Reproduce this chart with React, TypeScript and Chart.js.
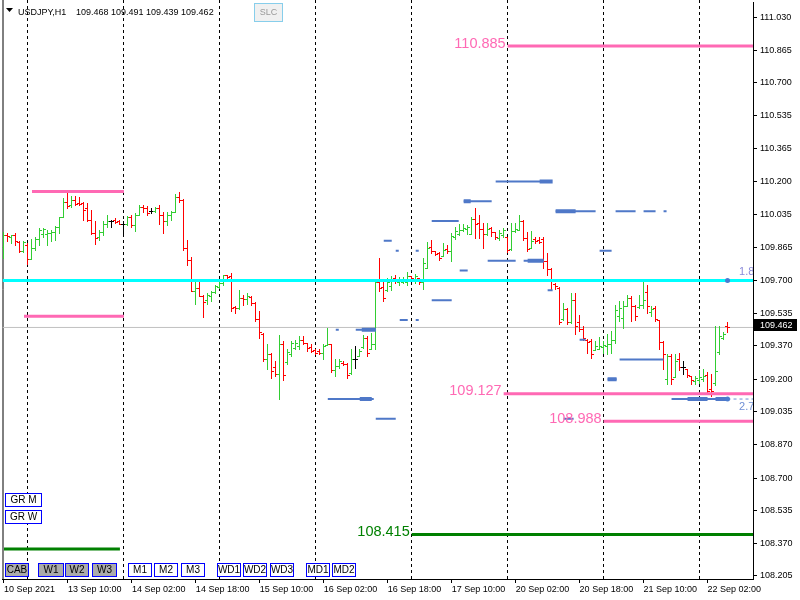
import React, { useEffect, useRef } from 'react';
import { Chart, BarController, registerables } from 'chart.js';

// Custom OHLC controller: uses the bar controller's parsing/scales and draws MT4-style bars
class OhlcController extends BarController {
  static id = 'ohlc';
  draw() {
    const meta: any = (this as any)._cachedMeta;
    const ds: any = this.getDataset();
    const ctx = (this as any).chart.ctx as CanvasRenderingContext2D;
    const xs = meta.iScale;
    const ys = meta.vScale;
    ctx.save();
    ds.data.forEach((d: any, i: number) => {
      const px = Math.floor(xs.getPixelForValue(d.x));
      const yH = Math.round(ys.getPixelForValue(d.y[1]));
      const yL = Math.round(ys.getPixelForValue(d.y[0]));
      const yO = Math.round(ys.getPixelForValue(ds.open[i]));
      const yC = Math.round(ys.getPixelForValue(ds.close[i]));
      ctx.fillStyle = ds.backgroundColor[i];
      ctx.fillRect(px, yH, 1, Math.max(1, yL - yH + 1));
      ctx.fillRect(px - 2, yO, 2, 1);
      ctx.fillRect(px + 1, yC, 2, 1);
    });
    ctx.restore();
  }
}

Chart.register(...registerables, OhlcController);

const FONT = "'Liberation Sans', Arial, Helvetica, sans-serif";

// ---------------- data ----------------
const SYMBOL = 'USDJPY,H1';

const OPEN = [
  109.870, 109.930, 109.922, 109.930, 109.895, 109.850, 109.880, 109.810, 109.863, 109.910,
  109.935, 109.935, 109.940, 109.945, 109.968, 110.020, 110.098, 110.080, 110.107, 110.090,
  110.090, 110.065, 110.006, 109.940, 109.920, 109.945, 109.985, 110.000, 110.003, 109.998,
  109.985, 109.985, 110.023, 109.981, 110.031, 110.073, 110.065, 110.050, 110.050, 110.068,
  110.031, 109.998, 110.031, 110.048, 110.123, 110.107, 109.863, 109.805, 109.645, 109.660,
  109.620, 109.600, 109.620, 109.640, 109.665, 109.685, 109.725, 109.720, 109.565, 109.560,
  109.612, 109.604, 109.615, 109.585, 109.505, 109.430, 109.300, 109.330, 109.260, 109.225,
  109.380, 109.285, 109.330, 109.360, 109.370, 109.400, 109.385, 109.365, 109.350, 109.345,
  109.335, 109.375, 109.380, 109.245, 109.265, 109.284, 109.275, 109.230, 109.300, 109.320,
  109.365, 109.410, 109.355, 109.380, 109.690, 109.665, 109.650, 109.670, 109.710, 109.690,
  109.690, 109.690, 109.720, 109.700, 109.712, 109.690, 109.765, 109.870, 109.850, 109.840,
  109.825, 109.860, 109.850, 109.920, 109.935, 109.955, 109.960, 109.935, 110.010, 109.990,
  109.960, 109.935, 109.965, 109.945, 109.915, 109.930, 109.920, 109.860, 109.950, 109.956,
  110.000, 109.915, 109.863, 109.910, 109.905, 109.910, 109.800, 109.760, 109.680, 109.660,
  109.505, 109.555, 109.490, 109.600, 109.490, 109.455, 109.400, 109.395, 109.350, 109.355,
  109.365, 109.370, 109.380, 109.400, 109.520, 109.510, 109.570, 109.610, 109.570, 109.565,
  109.575, 109.640, 109.540, 109.560, 109.500, 109.390, 109.200, 109.320, 109.210, 109.300,
  109.260, 109.250, 109.215, 109.190, 109.195, 109.200, 109.220, 109.150, 109.180, 109.340,
  109.410, 109.468,
];
const HIGH = [
  109.947, 109.939, 109.930, 109.939, 109.897, 109.897, 109.888, 109.910, 109.922, 109.964,
  109.967, 109.955, 109.955, 109.973, 110.023, 110.115, 110.140, 110.128, 110.128, 110.123,
  110.098, 110.090, 110.056, 110.000, 109.955, 109.998, 110.031, 110.006, 110.014, 110.006,
  109.998, 110.026, 110.031, 110.040, 110.081, 110.081, 110.078, 110.068, 110.073, 110.081,
  110.048, 110.048, 110.051, 110.135, 110.149, 110.110, 109.902, 109.816, 109.695, 109.704,
  109.628, 109.637, 109.645, 109.678, 109.695, 109.729, 109.729, 109.737, 109.569, 109.653,
  109.625, 109.637, 109.620, 109.590, 109.545, 109.435, 109.376, 109.334, 109.292, 109.423,
  109.393, 109.351, 109.393, 109.401, 109.418, 109.418, 109.385, 109.376, 109.351, 109.351,
  109.376, 109.460, 109.380, 109.301, 109.301, 109.290, 109.280, 109.351, 109.368, 109.351,
  109.423, 109.418, 109.435, 109.695, 109.813, 109.695, 109.712, 109.721, 109.726, 109.715,
  109.715, 109.742, 109.722, 109.732, 109.712, 109.813, 109.893, 109.905, 109.850, 109.846,
  109.888, 109.877, 109.939, 109.972, 109.984, 109.984, 109.981, 110.023, 110.068, 110.031,
  109.989, 109.989, 109.972, 109.947, 109.956, 109.964, 109.922, 109.989, 109.989, 110.031,
  110.006, 109.947, 109.951, 109.922, 109.917, 109.917, 109.838, 109.763, 109.687, 109.665,
  109.586, 109.561, 109.637, 109.637, 109.524, 109.469, 109.402, 109.402, 109.393, 109.413,
  109.393, 109.430, 109.444, 109.578, 109.595, 109.595, 109.628, 109.620, 109.578, 109.628,
  109.692, 109.679, 109.570, 109.570, 109.502, 109.393, 109.330, 109.326, 109.330, 109.335,
  109.293, 109.251, 109.217, 109.217, 109.246, 109.251, 109.239, 109.225, 109.469, 109.469,
  109.440, 109.491,
];
const LOW = [
  109.813, 109.897, 109.888, 109.880, 109.846, 109.843, 109.783, 109.808, 109.855, 109.880,
  109.922, 109.880, 109.897, 109.905, 109.940, 110.020, 110.065, 110.073, 110.081, 110.081,
  110.006, 109.998, 109.936, 109.884, 109.905, 109.930, 109.972, 109.969, 109.989, 109.984,
  109.939, 109.981, 109.969, 109.950, 110.031, 110.048, 110.031, 110.040, 110.048, 109.984,
  109.939, 109.981, 110.006, 110.044, 110.098, 109.855, 109.779, 109.645, 109.581, 109.620,
  109.516, 109.581, 109.598, 109.637, 109.662, 109.675, 109.695, 109.544, 109.536, 109.556,
  109.574, 109.581, 109.578, 109.494, 109.410, 109.292, 109.250, 109.208, 109.217, 109.099,
  109.195, 109.276, 109.318, 109.351, 109.351, 109.380, 109.343, 109.339, 109.326, 109.329,
  109.301, 109.373, 109.239, 109.217, 109.259, 109.272, 109.205, 109.225, 109.259, 109.318,
  109.360, 109.318, 109.351, 109.351, 109.645, 109.595, 109.645, 109.653, 109.687, 109.679,
  109.687, 109.679, 109.709, 109.687, 109.682, 109.658, 109.762, 109.838, 109.826, 109.804,
  109.821, 109.838, 109.799, 109.910, 109.930, 109.951, 109.934, 109.934, 109.914, 109.914,
  109.863, 109.930, 109.925, 109.910, 109.905, 109.922, 109.846, 109.855, 109.947, 109.956,
  109.902, 109.847, 109.863, 109.889, 109.889, 109.763, 109.729, 109.654, 109.654, 109.481,
  109.502, 109.481, 109.486, 109.430, 109.444, 109.397, 109.335, 109.309, 109.346, 109.351,
  109.335, 109.326, 109.335, 109.385, 109.497, 109.461, 109.570, 109.494, 109.502, 109.561,
  109.561, 109.536, 109.519, 109.494, 109.351, 109.251, 109.178, 109.178, 109.209, 109.246,
  109.225, 109.209, 109.178, 109.178, 109.183, 109.192, 109.133, 109.116, 109.172, 109.326,
  109.402, 109.439,
];
const CLOSE = [
  109.930, 109.925, 109.930, 109.897, 109.850, 109.895, 109.810, 109.863, 109.910, 109.955,
  109.960, 109.940, 109.945, 109.968, 110.020, 110.098, 110.075, 110.107, 110.085, 110.088,
  110.056, 110.008, 109.940, 109.915, 109.945, 109.985, 110.000, 110.000, 109.996, 109.985,
  109.985, 110.023, 109.981, 110.031, 110.073, 110.065, 110.040, 110.050, 110.068, 110.031,
  109.998, 110.031, 110.048, 110.123, 110.107, 109.863, 109.805, 109.648, 109.660, 109.622,
  109.590, 109.628, 109.640, 109.670, 109.685, 109.725, 109.715, 109.561, 109.558, 109.612,
  109.604, 109.620, 109.585, 109.505, 109.440, 109.300, 109.330, 109.240, 109.225, 109.380,
  109.220, 109.340, 109.385, 109.385, 109.400, 109.385, 109.360, 109.345, 109.335, 109.335,
  109.370, 109.380, 109.245, 109.265, 109.290, 109.275, 109.220, 109.300, 109.300, 109.345,
  109.410, 109.335, 109.380, 109.690, 109.660, 109.610, 109.690, 109.700, 109.695, 109.705,
  109.705, 109.720, 109.712, 109.720, 109.690, 109.790, 109.865, 109.850, 109.835, 109.815,
  109.855, 109.850, 109.925, 109.950, 109.955, 109.965, 109.970, 110.010, 109.985, 109.960,
  109.935, 109.960, 109.945, 109.920, 109.940, 109.955, 109.855, 109.950, 109.960, 110.000,
  109.915, 109.860, 109.900, 109.900, 109.895, 109.800, 109.760, 109.700, 109.670, 109.490,
  109.555, 109.490, 109.600, 109.470, 109.455, 109.410, 109.390, 109.330, 109.370, 109.370,
  109.375, 109.380, 109.400, 109.550, 109.560, 109.570, 109.610, 109.570, 109.520, 109.575,
  109.600, 109.570, 109.555, 109.505, 109.390, 109.330, 109.320, 109.200, 109.290, 109.260,
  109.260, 109.220, 109.195, 109.205, 109.210, 109.215, 109.140, 109.140, 109.240, 109.420,
  109.430, 109.462,
];

// time axis (bar index -> label)
const X_TICK_INDEX = [0, 16, 32, 48, 64, 80, 96, 112, 128, 144, 160, 176];
const X_TICK_LABELS = [
  '10 Sep 2021', '13 Sep 10:00', '14 Sep 02:00', '14 Sep 18:00', '15 Sep 10:00', '16 Sep 02:00',
  '16 Sep 18:00', '17 Sep 10:00', '20 Sep 02:00', '20 Sep 18:00', '21 Sep 10:00', '22 Sep 02:00',
];
const DAY_STARTS = [6, 30, 54, 78, 102, 126, 150, 174];

const Y_TICK_VALUES = [
  111.030, 110.865, 110.700, 110.535, 110.365, 110.200, 110.035, 109.865, 109.700,
  109.535, 109.370, 109.200, 109.035, 108.870, 108.700, 108.535, 108.370, 108.205,
];

// axis ranges (in bars / price)
const X_MIN = -0.375;
const X_MAX = 187.375;
const Y_MIN = 108.1898;
const Y_MAX = 111.1055;

// labelled levels
const PINK_LEVELS = [110.885, 109.127, 108.988];
const PINK_LEVEL_FROM = [126, 125, 150];
const GREEN_LEVELS = [108.415];
const GREEN_LEVEL_FROM = [102];
const CYAN_LEVEL = 109.7;

// short range lines (left side)
const PINK_RANGE_PRICES = [110.149, 109.519];
const PINK_RANGE_FROM = [7, 5];
const PINK_RANGE_TO = [30, 30];
const GREEN_RANGE_PRICES = [108.341];
const GREEN_RANGE_FROM = [0];
const GREEN_RANGE_TO = [29];

// blue zone segments
const ZONE_PRICES = [110.20, 110.10, 109.90, 109.85, 109.85, 110.00, 109.80, 109.75, 109.60, 109.50,
  109.50, 109.45, 109.45, 109.10, 109.00, 110.05, 110.05, 110.05, 110.05, 109.85,
  109.80, 109.65, 109.40, 109.30, 109.20, 109.10, 109.00];
const ZONE_FROM = [123, 115, 95, 98, 103, 107, 121, 114, 107, 99,
  103, 83, 88, 81, 93, 138, 153, 160, 165, 149,
  130, 136, 144, 154, 151, 167, 140];
const ZONE_TO = [137, 122, 97, 98.75, 103.75, 113.75, 128, 116, 112, 101,
  103.75, 83.75, 93, 92.5, 98, 148, 158, 163, 165.75, 152,
  135, 137.25, 145.5, 165, 153.25, 181, 142.5];
const ZONE_THICK_PRICES = [110.20, 110.10, 109.45, 109.10, 110.05, 109.80, 109.20, 109.10, 109.10];
const ZONE_THICK_FROM = [134, 115, 89.5, 89, 138, 131, 151, 171, 178];
const ZONE_THICK_TO = [137.25, 116.75, 93, 92, 143, 135, 153.25, 176, 181];

// markers with value labels
const MARKER_INDEX = 181;
const MARKER_PRICES = [109.70, 109.10];
const MARKER_LABELS = ['1.8', '2.7'];

const BUTTON_ROW = ['CAB', 'W1', 'W2', 'W3', 'M1', 'M2', 'M3', 'WD1', 'WD2', 'WD3', 'MD1', 'MD2'];
const BUTTON_ROW_ACTIVE = [true, true, true, true, false, false, false, false, false, false, false, false];
const BUTTON_STACK = ['GR M', 'GR W'];

// ---------------- layout / style ----------------
const ROW_BTN_X = [5, 38, 65, 92, 128, 154, 181, 217, 243, 270, 306, 332];
const ROW_BTN_W = [24, 26, 24, 25, 24, 24, 24, 24, 24, 24, 24, 24];

const C_UP = '#32CD32';
const C_DOWN = '#FF0000';
const C_FLAT = '#000000';
const C_PINK = '#FF69B4';
const C_GREEN = '#008000';
const C_CYAN = '#00FFFF';
const C_ZONE = '#4F78C8';

const barColor = (i: number) => (CLOSE[i] > OPEN[i] ? C_UP : CLOSE[i] < OPEN[i] ? C_DOWN : C_FLAT);

function segments(prices: number[], from: number[], to: number[]) {
  const idx = prices.map((_, k) => k).sort((a, b) => from[a] - from[b]);
  const pts: { x: number; y: number | null }[] = [];
  idx.forEach((k) => {
    pts.push({ x: from[k], y: prices[k] }, { x: to[k], y: prices[k] }, { x: to[k], y: null });
  });
  return pts;
}

const lineDs = (data: any[], color: string, width: number, order: number, extra: any = {}) => ({
  type: 'line' as const,
  data,
  borderColor: color,
  borderWidth: width,
  pointRadius: 0,
  pointHoverRadius: 0,
  spanGaps: false,
  borderCapStyle: 'butt',
  tension: 0,
  order,
  ...extra,
});

const overlayPlugin = {
  id: 'mt4overlay',
  beforeDatasetsDraw(chart: any) {
    const { ctx, chartArea, scales } = chart;
    ctx.save();
    ctx.strokeStyle = '#000';
    ctx.lineWidth = 1;
    ctx.setLineDash([3, 3]);
    DAY_STARTS.forEach((d) => {
      const px = Math.floor(scales.x.getPixelForValue(d)) + 0.5;
      ctx.beginPath();
      ctx.moveTo(px, 0);
      ctx.lineTo(px, chartArea.bottom);
      ctx.stroke();
    });
    ctx.setLineDash([]);
    ctx.beginPath();
    ctx.moveTo(chartArea.left + 0.5, 0);
    ctx.lineTo(chartArea.left + 0.5, chartArea.bottom);
    ctx.stroke();
    ctx.restore();
  },
  afterDatasetsDraw(chart: any) {
    const { ctx, chartArea, scales } = chart;
    const x = scales.x;
    const y = scales.y;
    ctx.save();
    ctx.font = `14.5px ${FONT}`;
    ctx.textAlign = 'right';
    ctx.textBaseline = 'alphabetic';
    PINK_LEVELS.forEach((p, k) => {
      ctx.fillStyle = C_PINK;
      ctx.fillText(p.toFixed(3), x.getPixelForValue(PINK_LEVEL_FROM[k]) - 2, y.getPixelForValue(p) + 1.5);
    });
    GREEN_LEVELS.forEach((p, k) => {
      ctx.fillStyle = C_GREEN;
      ctx.fillText(p.toFixed(3), x.getPixelForValue(GREEN_LEVEL_FROM[k]) - 2, y.getPixelForValue(p) + 1.5);
    });
    // marker labels
    ctx.beginPath();
    ctx.rect(chartArea.left, chartArea.top, chartArea.right - chartArea.left, chartArea.bottom - chartArea.top);
    ctx.clip();
    ctx.font = `11px ${FONT}`;
    ctx.textAlign = 'left';
    MARKER_PRICES.forEach((p, k) => {
      const px = x.getPixelForValue(MARKER_INDEX) + 11.5;
      const py = y.getPixelForValue(p);
      ctx.fillStyle = k === 0 ? '#8B8BDA' : '#6F8FD6';
      ctx.fillText(MARKER_LABELS[k], px, k === 0 ? py - 5 : py + 10.5);
    });
    ctx.restore();
  },
  afterDraw(chart: any) {
    const { ctx, chartArea, scales } = chart;
    const last = CLOSE.length - 1;
    ctx.save();
    // price tag on axis
    const py = scales.y.getPixelForValue(CLOSE[last]);
    ctx.fillStyle = '#000';
    ctx.fillRect(chartArea.right + 1, Math.round(py - 8), 43, 12);
    ctx.fillStyle = '#fff';
    ctx.font = `9px ${FONT}`;
    ctx.textAlign = 'left';
    ctx.textBaseline = 'middle';
    ctx.fillText(CLOSE[last].toFixed(3), chartArea.right + 7, Math.round(py - 8) + 6.5);

    // header
    ctx.fillStyle = '#000';
    ctx.beginPath();
    ctx.moveTo(6, 8);
    ctx.lineTo(13, 8);
    ctx.lineTo(9.5, 12);
    ctx.closePath();
    ctx.fill();
    ctx.textBaseline = 'alphabetic';
    ctx.fillText(SYMBOL, 18, 15);
    ctx.fillText(
      [OPEN[last], HIGH[last], LOW[last], CLOSE[last]].map((v) => v.toFixed(3)).join(' '),
      76,
      15,
    );

    // SLC button
    ctx.fillStyle = '#F0F0F0';
    ctx.fillRect(254, 3, 29, 19);
    ctx.strokeStyle = '#87CEEB';
    ctx.lineWidth = 1;
    ctx.strokeRect(254.5, 3.5, 28, 18);
    ctx.fillStyle = '#999999';
    ctx.textAlign = 'center';
    ctx.textBaseline = 'middle';
    ctx.fillText('SLC', 268.5, 13);

    const button = (bx: number, by: number, bw: number, bh: number, label: string, fill: string) => {
      ctx.fillStyle = fill;
      ctx.fillRect(bx, by, bw, bh);
      ctx.strokeStyle = '#0000FF';
      ctx.lineWidth = 1;
      ctx.strokeRect(bx + 0.5, by + 0.5, bw - 1, bh - 1);
      ctx.fillStyle = '#000';
      ctx.font = `10px ${FONT}`;
      ctx.textAlign = 'center';
      ctx.textBaseline = 'middle';
      ctx.fillText(label, bx + bw / 2, by + bh / 2 + 0.5);
    };
    BUTTON_STACK.forEach((b, k) => button(5, 493 + k * 17, 37, 14, b, '#FFFFFF'));
    BUTTON_ROW.forEach((b, k) =>
      button(ROW_BTN_X[k], 563, ROW_BTN_W[k], 14, b, BUTTON_ROW_ACTIVE[k] ? '#ABABAB' : '#FFFFFF'),
    );
    ctx.restore();
  },
};

export default function App() {
  const ref = useRef<HTMLCanvasElement | null>(null);

  useEffect(() => {
    if (!ref.current) return;
    const colors = OPEN.map((_, i) => barColor(i));
    const last = CLOSE.length - 1;

    const datasets: any[] = [
      lineDs([{ x: X_MIN, y: CLOSE[last] }, { x: X_MAX, y: CLOSE[last] }], '#C0C0C0', 1, 30),
      {
        type: 'ohlc',
        data: HIGH.map((h, i) => ({ x: i, y: [LOW[i], h] })),
        open: OPEN,
        close: CLOSE,
        backgroundColor: colors,
        borderWidth: 0,
        barThickness: 1,
        inflateAmount: 0,
        order: 20,
      },
      lineDs(segments(ZONE_PRICES, ZONE_FROM, ZONE_TO), C_ZONE, 2, 6),
      lineDs(segments(ZONE_THICK_PRICES, ZONE_THICK_FROM, ZONE_THICK_TO), C_ZONE, 4, 5),
      lineDs(
        [{ x: MARKER_INDEX, y: MARKER_PRICES[1] }, { x: X_MAX, y: MARKER_PRICES[1] }],
        '#6F8FD6',
        1,
        4,
        { borderDash: [3, 3] },
      ),
      lineDs([{ x: X_MIN, y: CYAN_LEVEL }, { x: X_MAX, y: CYAN_LEVEL }], C_CYAN, 3, 3),
      lineDs(
        segments(PINK_LEVELS, PINK_LEVEL_FROM, PINK_LEVELS.map(() => X_MAX)),
        C_PINK,
        3,
        3,
      ),
      lineDs(segments(PINK_RANGE_PRICES, PINK_RANGE_FROM, PINK_RANGE_TO), C_PINK, 3, 3),
      lineDs(
        segments(GREEN_LEVELS, GREEN_LEVEL_FROM, GREEN_LEVELS.map(() => X_MAX)),
        C_GREEN,
        3,
        3,
      ),
      lineDs(segments(GREEN_RANGE_PRICES, GREEN_RANGE_FROM, GREEN_RANGE_TO), C_GREEN, 3, 3),
      {
        type: 'line',
        data: MARKER_PRICES.map((p) => ({ x: MARKER_INDEX, y: p })),
        showLine: false,
        pointStyle: 'circle',
        pointRadius: 2.5,
        pointHoverRadius: 2.5,
        pointBorderWidth: 0,
        pointBackgroundColor: '#4A7CD0',
        order: 1,
      },
    ];

    const chart = new Chart(ref.current, {
      type: 'bar',
      data: { datasets },
      plugins: [overlayPlugin],
      options: {
        animation: false,
        responsive: false,
        devicePixelRatio: 1,
        events: [],
        layout: { padding: { left: 2, right: 0, top: 0, bottom: 0 } },
        plugins: { legend: { display: false }, tooltip: { enabled: false } },
        scales: {
          x: {
            type: 'linear',
            min: X_MIN,
            max: X_MAX,
            offset: false,
            grid: { display: true, drawOnChartArea: false, drawTicks: true, tickLength: 4, color: '#000', offset: false },
            border: { display: true, color: '#000' },
            ticks: {
              autoSkip: false,
              maxRotation: 0,
              minRotation: 0,
              align: 'start',
              padding: 1,
              color: '#000',
              font: { family: FONT, size: 9 },
              callback: (v: any) => {
                const k = X_TICK_INDEX.indexOf(Number(v));
                return k >= 0 ? X_TICK_LABELS[k] : '';
              },
            },
            afterBuildTicks: (s: any) => {
              s.ticks = X_TICK_INDEX.map((v) => ({ value: v }));
            },
            afterFit: (s: any) => {
              s.height = 21;
              s.paddingLeft = 0;
              s.paddingRight = 0;
            },
          },
          y: {
            type: 'linear',
            position: 'right',
            min: Y_MIN,
            max: Y_MAX,
            beginAtZero: false,
            grid: { display: true, drawOnChartArea: false, drawTicks: true, tickLength: 4, color: '#000' },
            border: { display: true, color: '#000' },
            ticks: {
              padding: 3,
              color: '#000',
              font: { family: FONT, size: 9 },
              callback: (v: any) => Number(v).toFixed(3),
            },
            afterBuildTicks: (s: any) => {
              s.ticks = Y_TICK_VALUES.map((v) => ({ value: v }));
            },
            afterFit: (s: any) => {
              s.width = 47;
              s.paddingTop = 0;
              s.paddingBottom = 0;
            },
          },
        },
      } as any,
    });
    return () => chart.destroy();
  }, []);

  return (
    <div style={{ position: 'fixed', left: 0, top: 0, width: 800, height: 600, background: '#fff' }}>
      <canvas ref={ref} width={800} height={600} style={{ width: 800, height: 600, display: 'block' }} />
    </div>
  );
}
